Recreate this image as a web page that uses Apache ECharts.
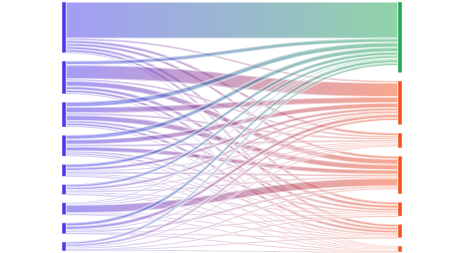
<!DOCTYPE html>
<html>
<head>
<meta charset="utf-8">
<script src="https://cdn.jsdelivr.net/npm/echarts@6/dist/echarts.min.js"></script>
<style>
html,body{margin:0;padding:0;background:#fff;}
#chart{width:450px;height:253px;}
</style>
</head>
<body>
<div id="chart"></div>
<script>
// Source nodes (left column) and their totals
const sources = ['S1', 'S2', 'S3', 'S4', 'S5', 'S6', 'S7', 'S8', 'S9'];
const sourceValues = [51, 33, 25, 21, 12, 10, 12, 11, 9];
// Target nodes (right column) and their totals
const targets = ['T1', 'T2', 'T3', 'T4', 'T5', 'T6', 'T7'];
const targetValues = [71, 44, 15, 38, 14, 13.5, 6];
// Flows from each source to T1..T7
const flowS1 = [36.5, 2, 3, 3, 3, 3, 0.5];
const flowS2 = [4, 14, 2, 5.5, 3.5, 3, 1];
const flowS3 = [5, 6, 2, 5.5, 2.5, 3, 1];
const flowS4 = [4.5, 5, 2, 4.5, 2, 2, 1];
const flowS5 = [3.5, 3, 1, 2, 1, 1, 0.5];
const flowS6 = [3, 2.5, 1, 1.5, 1, 0.5, 0.5];
const flowS7 = [1, 1, 0.5, 8, 0.5, 0.5, 0.5];
const flowS8 = [3.5, 3.5, 1, 1.9, 0.3, 0.3, 0.5];
const flowS9 = [2.5, 2.5, 1, 1.3, 0.2, 0.2, 0.3];
const flows = [flowS1, flowS2, flowS3, flowS4, flowS5, flowS6, flowS7, flowS8, flowS9];

const sourceColor = '#4a3aee';
const targetColors = ['#22a852', '#f4521e', '#f4521e', '#f4521e', '#f4521e', '#f4521e', '#f4521e'];

const nodes = [];
sources.forEach(function (s, i) {
  nodes.push({ name: s, value: sourceValues[i], itemStyle: { color: sourceColor } });
});
targets.forEach(function (t, i) {
  nodes.push({ name: t, value: targetValues[i], itemStyle: { color: targetColors[i] } });
});
const links = [];
flows.forEach(function (row, i) {
  row.forEach(function (v, j) {
    links.push({ source: sources[i], target: targets[j], value: v });
  });
});

const chart = echarts.init(document.getElementById('chart'), null, { renderer: 'canvas' });
chart.setOption({
  animation: false,
  series: [{
    type: 'sankey',
    left: 62,
    right: 48,
    top: 2,
    bottom: 1,
    nodeWidth: 4,
    nodeGap: 8.2,
    layoutIterations: 0,
    draggable: false,
    label: { show: false },
    itemStyle: { borderWidth: 0.6, borderColor: 'rgba(255,255,255,0.7)' },
    lineStyle: { color: 'gradient', opacity: 0.5, curveness: 0.5, borderColor: '#ffffff', borderWidth: 1.8 },
    emphasis: { disabled: true },
    data: nodes,
    links: links
  }]
});
</script>
</body>
</html>
